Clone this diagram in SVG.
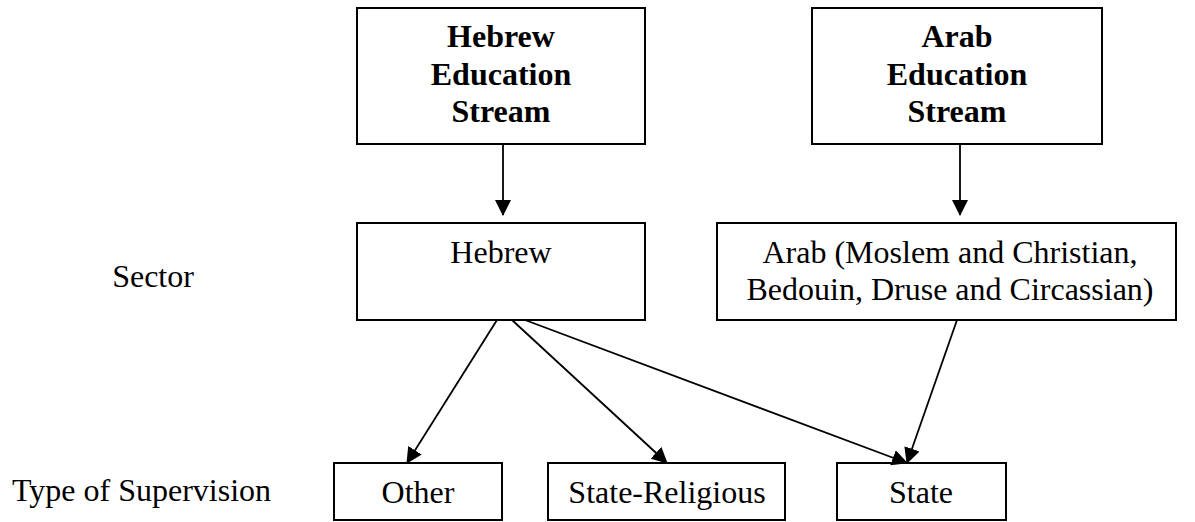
<svg xmlns="http://www.w3.org/2000/svg" width="1195" height="522" viewBox="0 0 1195 522">
<style>
.box{fill:#fff;stroke:#000;stroke-width:2}
.t{font-family:"Liberation Serif","Times New Roman",serif;font-size:32px;fill:#000}
.b{font-weight:bold}
.c{text-anchor:middle}
.ln{stroke:#000;stroke-width:1.8;fill:none}
</style>
<defs>
<marker id="ah" viewBox="0 0 16 16" refX="15" refY="8" markerWidth="16" markerHeight="16" markerUnits="userSpaceOnUse" orient="auto">
<path d="M0,0 L16,8 L0,16 Z" fill="#000"/>
</marker>
</defs>
<rect width="1195" height="522" fill="#fff"/>
<text class="t" x="153" y="287" text-anchor="middle">Sector</text>
<text class="t" x="12" y="501">Type of Supervision</text>
<g id="hebrew-stream">
<rect class="box" x="357" y="8" width="288" height="136"/>
<text class="t b c" x="501" y="47">Hebrew</text>
<text class="t b c" x="501" y="85">Education</text>
<text class="t b c" x="501" y="122">Stream</text>
</g>
<g id="arab-stream">
<rect class="box" x="812" y="8" width="290" height="136"/>
<text class="t b c" x="957" y="47">Arab</text>
<text class="t b c" x="957" y="85">Education</text>
<text class="t b c" x="957" y="122">Stream</text>
</g>
<g id="hebrew-sector">
<rect class="box" x="357" y="223" width="288" height="97"/>
<text class="t c" x="501" y="263">Hebrew</text>
</g>
<g id="arab-sector">
<rect class="box" x="717" y="223" width="459" height="97"/>
<text class="t c" x="950" y="263">Arab (Moslem and Christian,</text>
<text class="t c" x="950" y="300">Bedouin, Druse and Circassian)</text>
</g>
<g id="other">
<rect class="box" x="334" y="463" width="168" height="57"/>
<text class="t c" x="418" y="503">Other</text>
</g>
<g id="state-religious">
<rect class="box" x="548" y="463" width="237" height="57"/>
<text class="t c" x="667" y="503">State-Religious</text>
</g>
<g id="state">
<rect class="box" x="837" y="463" width="169" height="57"/>
<text class="t c" x="921" y="503">State</text>
</g>
<g id="connectors">
<line class="ln" x1="503" y1="144" x2="503" y2="215" marker-end="url(#ah)"/>
<line class="ln" x1="960" y1="144" x2="960" y2="215" marker-end="url(#ah)"/>
<line class="ln" x1="497" y1="320" x2="407" y2="463" marker-end="url(#ah)"/>
<line class="ln" x1="512" y1="320" x2="667" y2="463" marker-end="url(#ah)"/>
<line class="ln" x1="525" y1="320" x2="907" y2="463" marker-end="url(#ah)"/>
<line class="ln" x1="957" y1="320" x2="907" y2="463" marker-end="url(#ah)"/>
</g>
</svg>
